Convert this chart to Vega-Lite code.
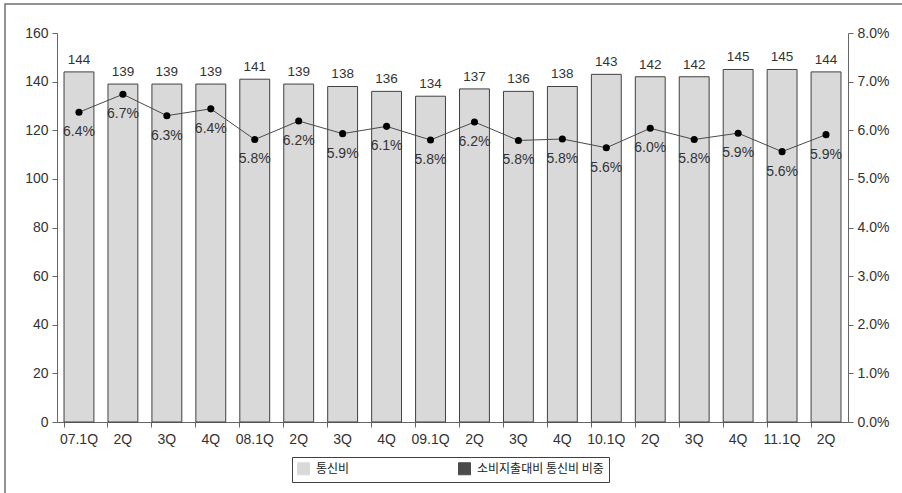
{
  "$schema": "https://vega.github.io/schema/vega-lite/v6.json",
  "width": 900,
  "height": 492,
  "autosize": "none",
  "padding": {"left": 5, "top": 4, "right": 0, "bottom": 0},
  "background": "#ffffff",
  "config": {
    "view": {"stroke": "#707070", "strokeWidth": 1.5},
    "axis": {
      "grid": false,
      "domainColor": "#666666",
      "tickColor": "#666666",
      "tickSize": 5,
      "labelColor": "#333333",
      "labelFont": "Liberation Sans",
      "labelFontSize": 14,
      "title": null
    }
  },
  "data": {
    "values": [
      {"q": "07.1Q", "cost": 144, "share": 0.0637},
      {"q": "07.2Q", "cost": 139, "share": 0.0674},
      {"q": "07.3Q", "cost": 139, "share": 0.0630},
      {"q": "07.4Q", "cost": 139, "share": 0.0644},
      {"q": "08.1Q", "cost": 141, "share": 0.0581},
      {"q": "08.2Q", "cost": 139, "share": 0.0619},
      {"q": "08.3Q", "cost": 138, "share": 0.0593},
      {"q": "08.4Q", "cost": 136, "share": 0.0608},
      {"q": "09.1Q", "cost": 134, "share": 0.0580},
      {"q": "09.2Q", "cost": 137, "share": 0.0617},
      {"q": "09.3Q", "cost": 136, "share": 0.0579},
      {"q": "09.4Q", "cost": 138, "share": 0.0582},
      {"q": "10.1Q", "cost": 143, "share": 0.0564},
      {"q": "10.2Q", "cost": 142, "share": 0.0604},
      {"q": "10.3Q", "cost": 142, "share": 0.0581},
      {"q": "10.4Q", "cost": 145, "share": 0.0594},
      {"q": "11.1Q", "cost": 145, "share": 0.0556},
      {"q": "11.2Q", "cost": 144, "share": 0.0591}
    ]
  },
  "encoding": {
    "x": {
      "field": "q",
      "type": "ordinal",
      "sort": null,
      "scale": {"range": [52, 843], "paddingInner": 0.32, "paddingOuter": 0.16},
      "axis": {
        "orient": "bottom",
        "offset": -74,
        "labelAngle": 0,
        "bandPosition": 0,
        "labelPadding": 5,
        "labelExpr": "indexof(datum.value, '.1Q') > 0 ? datum.value : split(datum.value, '.')[1]"
      }
    }
  },
  "layer": [
    {
      "layer": [
        {
          "mark": {"type": "bar", "stroke": "#404040", "strokeWidth": 1},
          "encoding": {
            "y": {
              "field": "cost",
              "type": "quantitative",
              "scale": {"domain": [0, 160], "range": [418, 29], "nice": false},
              "axis": {
                "orient": "left",
                "offset": -52,
                "values": [0, 20, 40, 60, 80, 100, 120, 140, 160],
                "labelPadding": 4
              }
            },
            "color": {
              "datum": "통신비",
              "type": "nominal",
              "scale": {
                "domain": ["통신비", "소비지출대비 통신비 비중"],
                "range": ["#d9d9d9", "#4a4a4a"]
              },
              "legend": {
                "title": null,
                "orient": "none",
                "legendX": 287,
                "legendY": 453,
                "direction": "horizontal",
                "strokeColor": "#404040",
                "fillColor": "#ffffff",
                "padding": 5,
                "columnPadding": 106,
                "symbolSize": 144,
                "symbolStrokeColor": "#404040",
                "symbolStrokeWidth": 1,
                "labelOffset": 6,
                "labelFont": "Noto Sans CJK KR",
                "labelFontSize": 12,
                "labelColor": "#222222"
              }
            }
          }
        },
        {
          "mark": {"type": "text", "baseline": "bottom", "dy": -5, "fontSize": 13.5, "color": "#333333", "font": "Liberation Sans"},
          "encoding": {
            "y": {"field": "cost", "type": "quantitative"},
            "text": {"field": "cost", "type": "quantitative"}
          }
        }
      ]
    },
    {
      "layer": [
        {
          "mark": {"type": "line", "strokeWidth": 1},
          "encoding": {
            "y": {
              "field": "share",
              "type": "quantitative",
              "scale": {"domain": [0, 0.08], "range": [418, 29], "nice": false},
              "axis": {
                "orient": "right",
                "offset": -57,
                "format": ".1%",
                "values": [0, 0.01, 0.02, 0.03, 0.04, 0.05, 0.06, 0.07, 0.08],
                "labelPadding": 4
              }
            },
            "color": {"datum": "소비지출대비 통신비 비중", "type": "nominal"}
          }
        },
        {
          "mark": {"type": "point", "filled": true, "size": 50, "color": "#000000", "opacity": 1},
          "encoding": {
            "y": {"field": "share", "type": "quantitative"}
          }
        },
        {
          "mark": {"type": "text", "baseline": "middle", "dy": 20, "fontSize": 14, "color": "#333333", "font": "Liberation Sans"},
          "encoding": {
            "y": {"field": "share", "type": "quantitative"},
            "text": {"field": "share", "type": "quantitative", "format": ".1%"}
          }
        }
      ]
    }
  ],
  "resolve": {"scale": {"y": "independent"}}
}
